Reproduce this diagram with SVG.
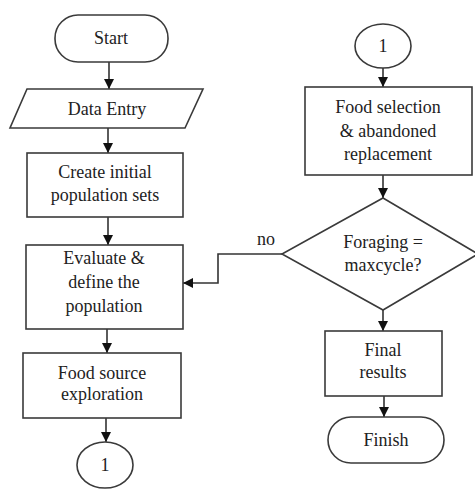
<svg xmlns="http://www.w3.org/2000/svg" width="475" height="492" viewBox="0 0 475 492">
<defs>
<marker id="ah" viewBox="0 0 10 10" refX="10" refY="5" markerWidth="10" markerHeight="10" markerUnits="userSpaceOnUse" orient="auto">
<path d="M0,0 L10,5 L0,10 Z" fill="#111"/>
</marker>
</defs>
<rect width="475" height="492" fill="#fff"/>
<g id="connectors" fill="none" stroke="#333" stroke-width="1.6" marker-end="url(#ah)">
<line x1="109" y1="62" x2="109" y2="89"/>
<line x1="108" y1="128" x2="108" y2="153"/>
<line x1="108" y1="217" x2="108" y2="245"/>
<line x1="107" y1="329" x2="107" y2="353"/>
<line x1="106" y1="418" x2="106" y2="442"/>
<line x1="383" y1="68" x2="383" y2="87"/>
<line x1="383" y1="175" x2="383" y2="198"/>
<line x1="383" y1="310" x2="383" y2="331"/>
<line x1="384" y1="396" x2="384" y2="417"/>
<polyline points="282,254 218,254 218,283 183,283"/>
</g>
<g font-family="Liberation Serif" font-size="18" text-anchor="middle" fill="#222">
<text x="266" y="245">no</text>
</g>
<g fill="#fff" stroke="#3a3a3a" stroke-width="1.6">
<g id="start"><rect x="55" y="15" width="113" height="47" rx="23" ry="23"/></g>
<g id="data-entry"><polygon points="27,89 203,89 185,128 10,128"/></g>
<g id="create"><rect x="27" y="153" width="156" height="64"/></g>
<g id="evaluate"><rect x="26" y="245" width="157" height="84"/></g>
<g id="food-source"><rect x="23" y="353" width="158" height="65"/></g>
<g id="connector-out"><ellipse cx="105" cy="465" rx="28" ry="23"/></g>
<g id="connector-in"><ellipse cx="383" cy="46" rx="28" ry="22"/></g>
<g id="food-selection"><rect x="305" y="87" width="167" height="88"/></g>
<g id="decision"><polygon points="383,198 478,254 383,310 282,254"/></g>
<g id="final-results"><rect x="325" y="331" width="117" height="65"/></g>
<g id="finish"><rect x="328" y="417" width="116" height="46" rx="23" ry="23"/></g>
</g>
<g id="labels" font-family="Liberation Serif" font-size="18" text-anchor="middle" fill="#222">
<text x="111" y="44">Start</text>
<text x="107" y="115">Data Entry</text>
<text x="105" y="178">Create initial</text>
<text x="105" y="201">population sets</text>
<text x="104" y="264">Evaluate &amp;</text>
<text x="104" y="288">define the</text>
<text x="104" y="312">population</text>
<text x="102" y="379">Food source</text>
<text x="102" y="400">exploration</text>
<text x="105" y="471">1</text>
<text x="383" y="52">1</text>
<text x="388" y="113">Food selection</text>
<text x="388" y="137">&amp; abandoned</text>
<text x="388" y="160">replacement</text>
<text x="383" y="248">Foraging =</text>
<text x="383" y="271">maxcycle?</text>
<text x="383" y="356">Final</text>
<text x="383" y="378">results</text>
<text x="386" y="446">Finish</text>
</g>
</svg>
